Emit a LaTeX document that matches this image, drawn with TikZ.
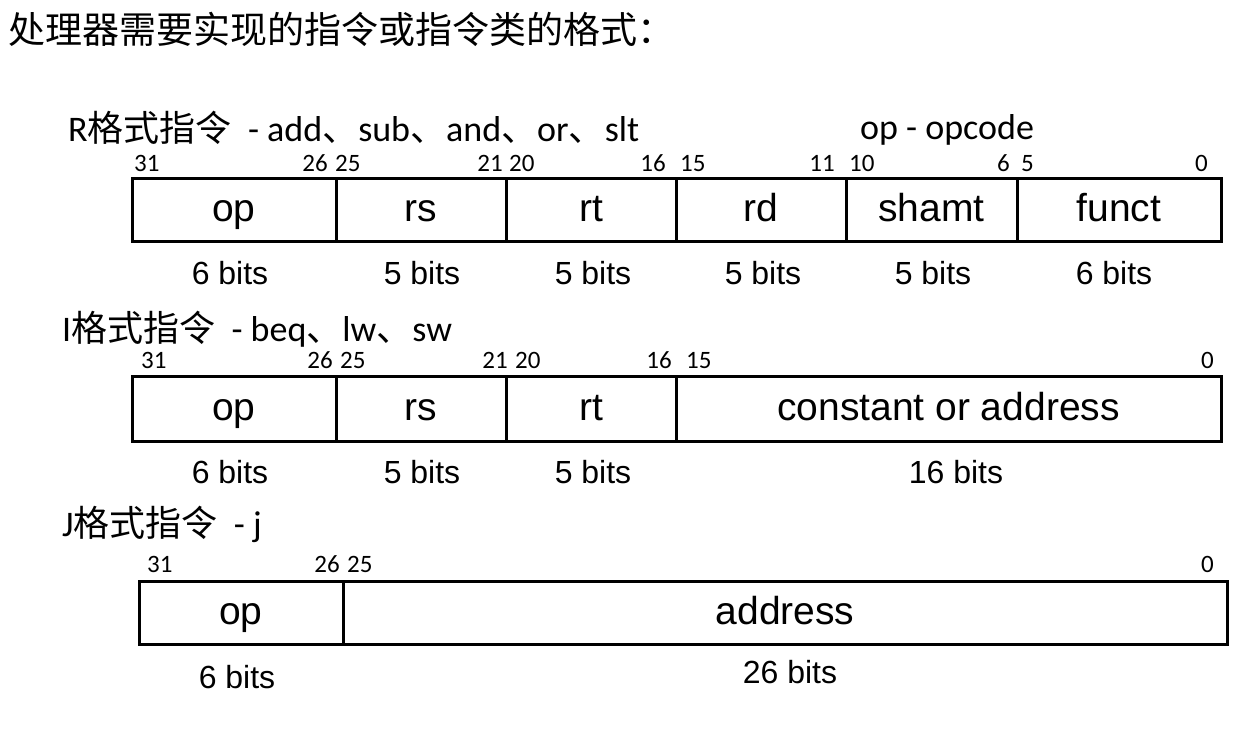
\documentclass[tikz,border=0pt]{standalone}
\usepackage{fontspec}
\setmainfont{Liberation Sans}
\newfontfamily\calfont{Carlito}
\newfontfamily\cjkfont{Noto Sans CJK SC}
\newcommand{\cj}[1]{{\cjkfont #1}}
\tikzset{
  field/.style={draw, line width=3pt, anchor=north west, inner sep=0pt, outer sep=0pt,
    minimum height=#1, text height=30pt, text depth=7pt,
    font=\fontsize{39}{42}\selectfont},
  bitsl/.style={anchor=base, inner sep=0pt, font=\fontsize{32}{36}\selectfont},
  numl/.style={anchor=base west, inner sep=0pt, font=\calfont\fontsize{25}{28}\selectfont},
  numr/.style={anchor=base east, inner sep=0pt, font=\calfont\fontsize{25}{28}\selectfont},
  hdr/.style={anchor=base west, inner sep=0pt, font=\calfont\fontsize{36}{39}\selectfont},
}
\begin{document}
\begin{tikzpicture}[x=1pt,y=-1pt]
\useasboundingbox (0,0) rectangle (1251,735);
% title
\node[anchor=base west, inner sep=0pt, font=\cjkfont\fontsize{37}{40}\selectfont] (title) at (8,44) {处理器需要实现的指令或指令类的格式：};

% ---------- R format
\node[hdr] (rhdr) at (68,142) {R\cj{格式指令}\ \ - add\cj{、}sub\cj{、}and\cj{、}or\cj{、}slt};
\node[hdr] (opnote) at (860,140) {op - opcode};
\node[field=63pt, minimum width=204pt] (rop) at (132,179) {op};
\node[field=63pt, minimum width=170pt] (rrs) at (336,179) {rs};
\node[field=63pt, minimum width=170pt] (rrt) at (506,179) {rt};
\node[field=63pt, minimum width=170pt] (rrd) at (676,179) {rd};
\node[field=63pt, minimum width=171pt] (rsh) at (846,179) {shamt};
\node[field=63pt, minimum width=204pt] (rfn) at (1017,179) {funct};
\node[numl] (r31) at (134,172) {31};
\node[numr] (r26) at (328,172) {26};
\node[numl] (r25) at (335,172) {25};
\node[numr] (r21) at (503,172) {21};
\node[numl] (r20) at (509,172) {20};
\node[numr] (r16) at (666,172) {16};
\node[numl] (r15) at (680,172) {15};
\node[numr] (r11) at (835,172) {11};
\node[numl] (r10) at (849,172) {10};
\node[numr] (r6) at (1010,172) {6};
\node[numl] (r5) at (1021,172) {5};
\node[numr] (r0) at (1208,172) {0};
\node[bitsl] (rb1) at (230,285) {6 bits};
\node[bitsl] (rb2) at (422,285) {5 bits};
\node[bitsl] (rb3) at (593,285) {5 bits};
\node[bitsl] (rb4) at (763,285) {5 bits};
\node[bitsl] (rb5) at (933,285) {5 bits};
\node[bitsl] (rb6) at (1114,285) {6 bits};

% ---------- I format
\node[hdr] (ihdr) at (62,342) {I\cj{格式指令}\ \ - beq\cj{、}lw\cj{、}sw};
\node[field=64pt, minimum width=204pt] (iop) at (132,377) {op};
\node[field=64pt, minimum width=170pt] (irs) at (336,377) {rs};
\node[field=64pt, minimum width=170pt] (irt) at (506,377) {rt};
\node[field=64pt, minimum width=545pt] (icn) at (676,377) {constant or address};
\node[numl] (i31) at (141,369) {31};
\node[numr] (i26) at (333,369) {26};
\node[numl] (i25) at (340,369) {25};
\node[numr] (i21) at (508,369) {21};
\node[numl] (i20) at (515,369) {20};
\node[numr] (i16) at (672,369) {16};
\node[numl] (i15) at (686,369) {15};
\node[numr] (i0) at (1214,369) {0};
\node[bitsl] (ib1) at (230,483) {6 bits};
\node[bitsl] (ib2) at (422,483) {5 bits};
\node[bitsl] (ib3) at (593,483) {5 bits};
\node[bitsl] (ib4) at (956,483) {16 bits};

% ---------- J format
\node[hdr] (jhdr) at (62,536) {J\cj{格式指令}\ \ - j};
\node[field=63pt, minimum width=204pt] (jop) at (139,581) {op};
\node[field=63pt, minimum width=884pt] (jad) at (343,581) {address};
\node[numl] (j31) at (147,572) {31};
\node[numr] (j26) at (340,572) {26};
\node[numl] (j25) at (347,572) {25};
\node[numr] (j0) at (1214,572) {0};
\node[bitsl] (jb1) at (237,688) {6 bits};
\node[bitsl] (jb2) at (790,683) {26 bits};
\end{tikzpicture}
\end{document}
